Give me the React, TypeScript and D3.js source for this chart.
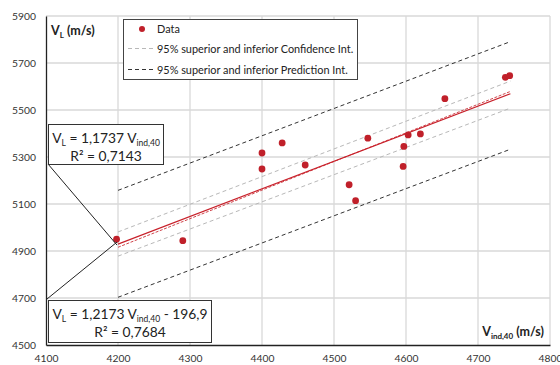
import React, { useEffect, useRef } from 'react';
import * as d3 from 'd3';

// measured points (V_ind,40 , V_L)
const vInd = [4198, 4290, 4400, 4400, 4428, 4460, 4521, 4530, 4547, 4597, 4596, 4603, 4620, 4654, 4738, 4744];
const vL = [4950, 4944, 5317, 5249, 5360, 5266, 5182, 5114, 5380, 5345, 5260, 5394, 5398, 5548, 5639, 5646];

// line end points, at x = 4200 and x = 4745
const lineX = [4200, 4745];
const fitThroughOrigin = [4929.5, 5569];
const fitWithIntercept = [4915.8, 5579];
const confUpper = [4981, 5623];
const confLower = [4878, 5508];
const predUpper = [5158, 5791];
const predLower = [4703, 5333];

const xTicks = [4100, 4200, 4300, 4400, 4500, 4600, 4700, 4800];
const yTicks = [4500, 4700, 4900, 5100, 5300, 5500, 5700, 5900];

const FONT = 'Lato, "Open Sans", sans-serif';

const App: React.FC = () => {
  const ref = useRef<SVGSVGElement | null>(null);

  useEffect(() => {
    if (!ref.current) return;
    const svg = d3.select(ref.current);
    svg.selectAll('*').remove();

    const left = 46, right = 550, top = 16, bottom = 345;
    const x = d3.scaleLinear().domain([4100, 4800]).range([left, right]);
    const y = d3.scaleLinear().domain([4500, 5900]).range([bottom, top]);

    // grid
    const grid = svg.append('g').attr('stroke', '#d9d9d9').attr('stroke-width', 1.3);
    grid.selectAll('line.v').data(xTicks.slice(1)).join('line')
      .attr('x1', d => x(d)).attr('x2', d => x(d)).attr('y1', top).attr('y2', bottom);
    grid.selectAll('line.h').data(yTicks.slice(1)).join('line')
      .attr('x1', left).attr('x2', right).attr('y1', d => y(d)).attr('y2', d => y(d));

    // axes
    const xAxis = svg.append('g').attr('transform', `translate(0,${bottom})`)
      .call(d3.axisBottom(x).tickValues(xTicks).tickSize(0).tickPadding(10).tickFormat(d3.format('d')));
    const yAxis = svg.append('g').attr('transform', `translate(${left},0)`)
      .call(d3.axisLeft(y).tickValues(yTicks).tickSize(0).tickPadding(10).tickFormat(d3.format('d')));
    [xAxis, yAxis].forEach(a => {
      a.select('.domain').attr('stroke', '#222').attr('stroke-width', 1.3);
      a.selectAll('text').attr('font-family', FONT).attr('font-size', 10.3).attr('fill', '#333');
    });

    const seg = (vals: number[]) => d3.line<number>().x((_, i) => x(lineX[i])).y(d => y(d))(vals) as string;

    // confidence interval
    [confUpper, confLower].forEach(v => svg.append('path').attr('d', seg(v))
      .attr('fill', 'none').attr('stroke', '#b8b8b8').attr('stroke-width', 1).attr('stroke-dasharray', '4,3'));
    // prediction interval
    [predUpper, predLower].forEach(v => svg.append('path').attr('d', seg(v))
      .attr('fill', 'none').attr('stroke', '#333').attr('stroke-width', 1).attr('stroke-dasharray', '4,3'));

    // fits
    svg.append('path').attr('d', seg(fitWithIntercept))
      .attr('fill', 'none').attr('stroke', '#d0454c').attr('stroke-width', 1).attr('stroke-dasharray', '3,1.5');
    svg.append('path').attr('d', seg(fitThroughOrigin))
      .attr('fill', 'none').attr('stroke', '#c8202a').attr('stroke-width', 1.2);

    // data
    svg.append('g').selectAll('circle').data(vInd).join('circle')
      .attr('cx', d => x(d)).attr('cy', (_, i) => y(vL[i])).attr('r', 3.4).attr('fill', '#c0202a');

    // axis titles
    const yt = svg.append('text').attr('x', 51).attr('y', 35).attr('font-family', FONT)
      .attr('font-size', 12.5).attr('font-weight', 'bold').attr('fill', '#222');
    yt.append('tspan').text('V');
    yt.append('tspan').attr('font-size', 8).attr('dy', 3).text('L');
    yt.append('tspan').attr('dy', -3).text(' (m/s)');

    const xt = svg.append('text').attr('x', 544).attr('y', 336).attr('text-anchor', 'end').attr('font-family', FONT)
      .attr('font-size', 12.5).attr('font-weight', 'bold').attr('fill', '#222');
    xt.append('tspan').text('V');
    xt.append('tspan').attr('font-size', 8).attr('dy', 3).text('ind,40');
    xt.append('tspan').attr('dy', -3).text(' (m/s)');

    // legend
    const lg = svg.append('g');
    lg.append('rect').attr('x', 123.5).attr('y', 19.5).attr('width', 234).attr('height', 60)
      .attr('fill', '#fff').attr('stroke', '#444').attr('stroke-width', 1);
    lg.append('circle').attr('cx', 142).attr('cy', 29).attr('r', 3).attr('fill', '#c0202a');
    lg.append('line').attr('x1', 128).attr('x2', 153).attr('y1', 48.5).attr('y2', 48.5)
      .attr('stroke', '#b8b8b8').attr('stroke-dasharray', '4,3');
    lg.append('line').attr('x1', 128).attr('x2', 153).attr('y1', 69.5).attr('y2', 69.5)
      .attr('stroke', '#333').attr('stroke-dasharray', '4,3');
    const legendLabels = ['Data', '95% superior and inferior Confidence Int.', '95% superior and inferior Prediction Int.'];
    lg.selectAll('text').data(legendLabels).join('text')
      .attr('x', 157).attr('y', (_, i) => 32.8 + i * 20.5)
      .attr('font-family', FONT).attr('font-size', 10.9).attr('fill', '#222').text(d => d);

    // annotation boxes
    const anchor: [number, number] = [x(lineX[0]) - 1, y(fitThroughOrigin[0]) + 1];
    svg.append('line').attr('x1', 48).attr('y1', 164).attr('x2', anchor[0]).attr('y2', anchor[1])
      .attr('stroke', '#222').attr('stroke-width', 1);
    svg.append('line').attr('x1', 47).attr('y1', 299).attr('x2', anchor[0]).attr('y2', anchor[1] - 3)
      .attr('stroke', '#222').attr('stroke-width', 1);

    const box = (bx: number, by: number, bw: number, bh: number, coef: string, extra: string, r2: string) => {
      const g = svg.append('g');
      g.append('rect').attr('x', bx).attr('y', by).attr('width', bw).attr('height', bh)
        .attr('fill', '#fff').attr('stroke', '#333').attr('stroke-width', 1);
      const t1 = g.append('text').attr('x', bx + bw / 2).attr('y', by + 18).attr('text-anchor', 'middle')
        .attr('font-family', FONT).attr('font-size', 13.8).attr('fill', '#222');
      t1.append('tspan').text('V');
      t1.append('tspan').attr('font-size', 8.5).attr('dy', 3).text('L');
      t1.append('tspan').attr('dy', -3).text(` = ${coef} V`);
      t1.append('tspan').attr('font-size', 8.5).attr('dy', 3).text('ind,40');
      t1.append('tspan').attr('dy', -3).text(extra);
      g.append('text').attr('x', bx + bw / 2).attr('y', by + 36).attr('text-anchor', 'middle')
        .attr('font-family', FONT).attr('font-size', 13.8).attr('fill', '#222').text(`R² = ${r2}`);
    };
    box(48.5, 124.5, 115, 40, '1,1737', '', '0,7143');
    box(48.5, 300.5, 163, 42, '1,2173', ' - 196,9', '0,7684');
  }, []);

  return (
    <div style={{ position: 'fixed', left: 0, top: 0, background: '#fff' }}>
      <svg ref={ref} width={560} height={365} style={{ display: 'block' }}></svg>
    </div>
  );
};

export default App;
